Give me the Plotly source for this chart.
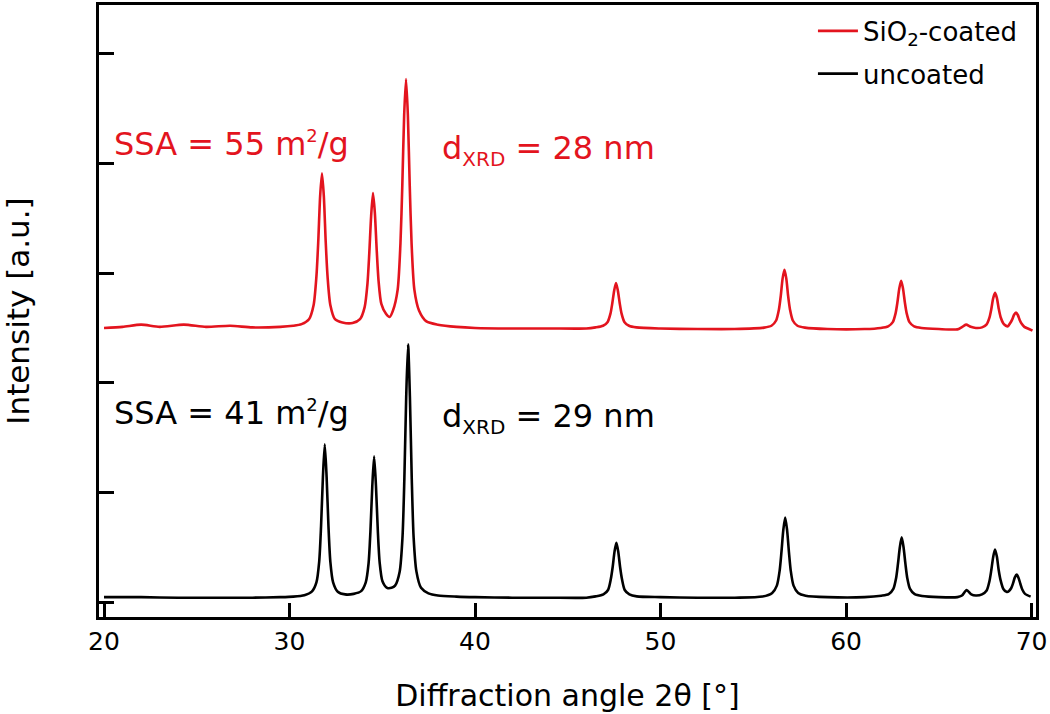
import plotly.graph_objects as go

# ---- data (y in arbitrary offset intensity units) ----
uncoated_x = [20.0, 22.0, 24.0, 26.0, 28.0, 29.5, 30.2, 30.8, 31.2, 31.45, 31.6, 31.7, 31.8, 31.9, 32.0, 32.1,
              32.2, 32.35, 32.6, 33.0, 33.46, 33.86, 34.11, 34.26, 34.36, 34.46, 34.56, 34.66, 34.76, 34.86,
              35.01, 35.26, 35.5, 35.69, 35.94, 36.09, 36.19, 36.29, 36.39, 36.49, 36.59, 36.69, 36.84, 37.09,
              37.49, 38.0, 39.0, 40.0, 42.0, 44.0, 46.0, 46.5, 46.92, 47.17, 47.32, 47.42, 47.52, 47.62, 47.72,
              47.82, 47.92, 48.07, 48.32, 48.72, 50.0, 52.0, 54.0, 55.5, 56.02, 56.27, 56.42, 56.52, 56.62,
              56.72, 56.82, 56.92, 57.02, 57.17, 57.42, 57.82, 59.0, 61.0, 61.9, 62.3, 62.55, 62.7, 62.8, 62.9,
              63.0, 63.1, 63.2, 63.3, 63.45, 63.7, 64.1, 65.0, 66.0, 66.25, 66.5, 66.75, 67.0, 67.33, 67.58,
              67.73, 67.83, 67.93, 68.03, 68.13, 68.23, 68.33, 68.48, 68.65, 68.75, 68.9, 69.0, 69.1, 69.2,
              69.3, 69.4, 69.5, 69.65, 69.95]
uncoated_y = [0.045, 0.045, 0.04, 0.04, 0.04, 0.045, 0.05, 0.063, 0.095, 0.18, 0.37, 0.69, 1.14, 1.44, 1.14, 0.69,
              0.37, 0.18, 0.095, 0.07, 0.075, 0.10, 0.18, 0.35, 0.64, 1.05, 1.33, 1.06, 0.65, 0.36,
              0.19, 0.13, 0.13, 0.15, 0.28, 0.59, 1.12, 1.87, 2.35, 1.87, 1.12, 0.59, 0.28, 0.13,
              0.08, 0.06, 0.05, 0.045, 0.04, 0.04, 0.04, 0.052, 0.07, 0.11, 0.21, 0.32, 0.46, 0.54, 0.46,
              0.32, 0.21, 0.11, 0.07, 0.052, 0.045, 0.04, 0.04, 0.05, 0.083, 0.15, 0.285, 0.46, 0.66,
              0.77, 0.66, 0.46, 0.285, 0.15, 0.083, 0.058, 0.045, 0.045, 0.058, 0.072, 0.12, 0.22, 0.35, 0.50,
              0.59, 0.50, 0.35, 0.22, 0.12, 0.072, 0.055, 0.045, 0.045, 0.06, 0.11, 0.07, 0.06, 0.07, 0.105,
              0.19, 0.29, 0.41, 0.48, 0.415, 0.29, 0.20, 0.12, 0.094, 0.096, 0.126, 0.17, 0.225, 0.25,
              0.22, 0.165, 0.115, 0.075, 0.05]

coated_x = [20.0, 21.0, 22.0, 23.0, 24.3, 25.5, 26.8, 28.0, 29.5, 30.2, 30.65, 31.05, 31.3, 31.45, 31.55, 31.65,
            31.75, 31.85, 31.95, 32.05, 32.2, 32.45, 32.85, 33.4, 33.8, 34.05, 34.2, 34.3, 34.4, 34.5, 34.6,
            34.7, 34.8, 34.95, 35.2, 35.4, 35.58, 35.83, 35.98, 36.08, 36.18, 36.28, 36.38, 36.48, 36.58,
            36.73, 36.98, 37.38, 38.0, 39.0, 40.0, 42.0, 44.0, 46.0, 46.5, 46.9, 47.15, 47.3, 47.4, 47.5,
            47.6, 47.7, 47.8, 47.9, 48.05, 48.3, 48.7, 50.0, 52.0, 54.0, 55.58, 55.98, 56.23, 56.38, 56.48,
            56.58, 56.68, 56.78, 56.88, 56.98, 57.13, 57.38, 57.78, 59.0, 61.0, 61.87, 62.27, 62.52, 62.67,
            62.77, 62.87, 62.97, 63.07, 63.17, 63.27, 63.42, 63.67, 64.07, 65.0, 66.0, 66.22, 66.47, 66.72,
            67.0, 67.33, 67.58, 67.73, 67.83, 67.93, 68.03, 68.13, 68.23, 68.33, 68.48, 68.62, 68.72, 68.86,
            68.96, 69.06, 69.16, 69.26, 69.36, 69.46, 69.61, 69.86, 70.05]
coated_y = [2.50, 2.51, 2.53, 2.51, 2.53, 2.51, 2.52, 2.505, 2.51, 2.52, 2.535, 2.58, 2.71, 2.97, 3.29, 3.70,
            3.91, 3.70, 3.29, 2.97, 2.71, 2.58, 2.55, 2.545, 2.58, 2.69, 2.90, 3.18, 3.52, 3.73, 3.55,
            3.21, 2.93, 2.72, 2.63, 2.60, 2.66, 2.85, 3.27, 3.80, 4.44, 4.77, 4.44, 3.80, 3.27,
            2.85, 2.66, 2.56, 2.53, 2.51, 2.50, 2.495, 2.495, 2.495, 2.505, 2.52, 2.555, 2.63, 2.725, 2.84,
            2.91, 2.84, 2.725, 2.63, 2.555, 2.52, 2.505, 2.495, 2.49, 2.49, 2.503, 2.52, 2.568, 2.667, 2.79,
            2.95, 3.03, 2.95, 2.79, 2.667, 2.568, 2.52, 2.503, 2.49, 2.49, 2.50, 2.515, 2.553, 2.633,
            2.734, 2.86, 2.93, 2.86, 2.734, 2.633, 2.553, 2.515, 2.50, 2.49, 2.487, 2.505, 2.53, 2.51,
            2.50, 2.505, 2.533, 2.594, 2.671, 2.77, 2.82, 2.775, 2.676, 2.60, 2.541, 2.52, 2.515, 2.547,
            2.578, 2.62, 2.64, 2.618, 2.573, 2.54, 2.51, 2.49, 2.475]

x_ticks = [20, 30, 40, 50, 60, 70]
x_tick_labels = ["20", "30", "40", "50", "60", "70"]
y_ticks = [0, 1, 2, 3, 4, 5]

series_names = ["SiO<sub>2</sub>-coated", "uncoated"]
series_colors = ["#E3141E", "#000000"]

SUP2 = "<sup><span style='font-size:18px'>2</span></sup>"
SUBX = "<sub><span style='font-size:20px'>XRD</span></sub>"
ssa_labels = ["SSA = 55 m" + SUP2 + "/g", "SSA = 41 m" + SUP2 + "/g"]
dxrd_labels = ["d" + SUBX + " = 28 nm", "d" + SUBX + " = 29 nm"]
label_y = [4.18, 1.72]
dxrd_y = [4.12, 1.68]
ssa_x = 20.45
dxrd_x = 38.1

FONT = "DejaVu Sans"

fig = go.Figure()
fig.add_trace(go.Scatter(x=coated_x, y=coated_y, mode="lines", name=series_names[0], legendgroup="a",
                         line=dict(color=series_colors[0], width=2.6, shape="spline", smoothing=0.7)))
fig.add_trace(go.Scatter(x=uncoated_x, y=uncoated_y, mode="lines", name=series_names[1], legendgroup="b",
                         line=dict(color=series_colors[1], width=2.6, shape="spline", smoothing=0.7)))

for i in range(2):
    fig.add_annotation(x=ssa_x, y=label_y[i], xref="x", yref="y", text=ssa_labels[i],
                       showarrow=False, xanchor="left", yanchor="middle",
                       font=dict(family=FONT, size=32, color=series_colors[i]))
    fig.add_annotation(x=dxrd_x, y=dxrd_y[i], xref="x", yref="y", text=dxrd_labels[i],
                       showarrow=False, xanchor="left", yanchor="middle",
                       font=dict(family=FONT, size=32, color=series_colors[i]))

fig.update_layout(
    width=1050, height=714,
    margin=dict(l=99, r=14, t=2, b=97),
    paper_bgcolor="white", plot_bgcolor="white",
    font=dict(family=FONT, color="black"),
    showlegend=True,
    legend=dict(x=0.985, y=0.996, xanchor="right", yanchor="top",
                bgcolor="rgba(0,0,0,0)", borderwidth=0, tracegroupgap=6,
                font=dict(family=FONT, size=26, color="black"),
                itemwidth=40),
    xaxis=dict(range=[19.73, 70.24], tickmode="array", tickvals=x_ticks, ticktext=x_tick_labels,
               ticks="inside", ticklen=14, tickwidth=3, tickcolor="black",
               showline=True, linecolor="black", linewidth=3, mirror=True,
               showgrid=False, zeroline=False,
               tickfont=dict(family=FONT, size=25, color="black"),
               title=dict(text="Diffraction angle 2θ [°]", font=dict(family=FONT, size=30, color="black"),
                          standoff=30)),
    yaxis=dict(range=[-0.136, 5.445], tickmode="array", tickvals=y_ticks,
               ticks="inside", ticklen=15, tickwidth=3, tickcolor="black",
               showticklabels=False,
               showline=True, linecolor="black", linewidth=3, mirror=True,
               showgrid=False, zeroline=False,
               title=dict(text="Intensity [a.u.]", font=dict(family=FONT, size=31, color="black"),
                          standoff=62)),
)

fig.write_html("out.html", config={"displayModeBar": False},
               post_script="document.body.style.margin='0';document.body.style.overflow='hidden';")
